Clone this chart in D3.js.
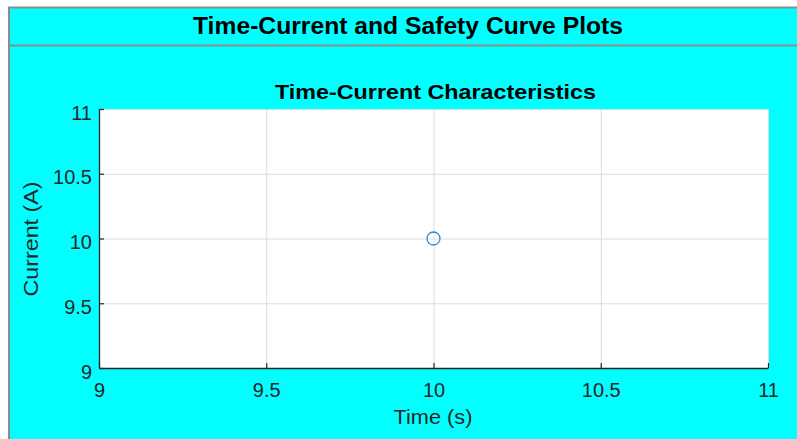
<!DOCTYPE html>
<html><head><meta charset="utf-8">
<script src="https://cdn.jsdelivr.net/npm/d3@7"></script>
<style>body{margin:0;background:#fff}svg{display:block}</style>
</head><body>
<svg id="c" width="797" height="439"></svg>
<script>
const times = [10];
const currents = [10];
const xTicks = [9, 9.5, 10, 10.5, 11];
const yTicks = [9, 9.5, 10, 10.5, 11];
const figTitle = "Time-Current and Safety Curve Plots";
const axTitle = "Time-Current Characteristics";
const xLabel = "Time (s)";
const yLabel = "Current (A)";

const svg = d3.select("#c");
const font = "'Liberation Sans', Arial, sans-serif";

// panel
svg.append("rect").attr("x", 9).attr("y", 7.5).attr("width", 800).attr("height", 440)
  .attr("fill", "#00ffff").attr("stroke", "#8c8c8c").attr("stroke-width", 2);
svg.append("line").attr("x1", 9).attr("x2", 797).attr("y1", 45.5).attr("y2", 45.5)
  .attr("stroke", "#8c8c8c").attr("stroke-width", 2);
svg.append("text").attr("x", 408).attr("y", 34).attr("text-anchor", "middle")
  .attr("font-family", font).attr("font-weight", "bold").attr("font-size", 23)
  .attr("textLength", 430).attr("lengthAdjust", "spacingAndGlyphs")
  .attr("fill", "#000").text(figTitle);

const m = {l: 99, r: 768, t: 109, b: 368};
const x = d3.scaleLinear().domain([9, 11]).range([m.l, m.r]);
const y = d3.scaleLinear().domain([9, 11]).range([m.b, m.t]);

svg.append("rect").attr("x", m.l).attr("y", m.t).attr("width", m.r - m.l).attr("height", m.b - m.t).attr("fill", "#fff");

// grid
svg.append("g").selectAll("line").data(xTicks).join("line")
  .attr("x1", d => x(d) + 0.5).attr("x2", d => x(d) + 0.5).attr("y1", m.t).attr("y2", m.b)
  .attr("stroke", "#dcdcdc").attr("stroke-width", 1);
svg.append("g").selectAll("line").data(yTicks).join("line")
  .attr("y1", d => y(d) + 0.5).attr("y2", d => y(d) + 0.5).attr("x1", m.l).attr("x2", m.r)
  .attr("stroke", "#dcdcdc").attr("stroke-width", 1);

// axes
const xa = svg.append("g").attr("transform", `translate(0,${m.b})`)
  .call(d3.axisBottom(x).tickValues(xTicks).tickSizeInner(-5).tickSizeOuter(0).tickPadding(14).tickFormat(d3.format("")));
const ya = svg.append("g").attr("transform", `translate(${m.l},0)`)
  .call(d3.axisLeft(y).tickValues(yTicks).tickSizeInner(-5).tickSizeOuter(0).tickPadding(8).tickFormat(d3.format("")));
[xa, ya].forEach(a => {
  a.select(".domain").attr("stroke", "#262626").attr("stroke-width", 1.3);
  a.selectAll(".tick line").attr("stroke", "#262626").attr("stroke-width", 1.2);
  a.selectAll(".tick text").attr("font-family", font).attr("font-size", 20).attr("fill", "#262626");
});
xa.selectAll(".tick text").attr("y", 28.5).attr("dy", 0);
ya.selectAll(".tick text").attr("x", -7).attr("dy", "0.5em");

// labels
svg.append("text").attr("x", 435.5).attr("y", 99).attr("text-anchor", "middle")
  .attr("font-family", font).attr("font-weight", "bold").attr("font-size", 20.5)
  .attr("textLength", 321).attr("lengthAdjust", "spacingAndGlyphs")
  .attr("fill", "#000").text(axTitle);
svg.append("text").attr("x", 433).attr("y", 424).attr("text-anchor", "middle")
  .attr("font-family", font).attr("font-size", 21)
  .attr("textLength", 79).attr("lengthAdjust", "spacingAndGlyphs")
  .attr("fill", "#262626").text(xLabel);
svg.append("text").attr("transform", "translate(38,239) rotate(-90)").attr("text-anchor", "middle")
  .attr("font-family", font).attr("font-size", 21)
  .attr("textLength", 115).attr("lengthAdjust", "spacingAndGlyphs")
  .attr("fill", "#262626").text(yLabel);

// data
svg.append("g").selectAll("circle").data(times.map((t, i) => [t, currents[i]])).join("circle")
  .attr("cx", d => x(d[0])).attr("cy", d => y(d[1])).attr("r", 6.5)
  .attr("fill", "none").attr("stroke", "#2f86d4").attr("stroke-width", 1.3);
</script>
</body></html>
